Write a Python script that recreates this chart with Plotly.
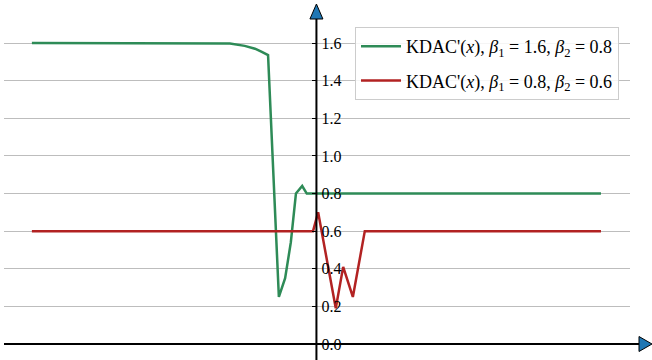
import plotly.graph_objects as go

# ---- data ----
green_x = [-5.0, -3.0, -2.0, -1.52, -1.26, -1.08, -0.96, -0.85, -0.66, -0.55, -0.45, -0.36, -0.25, -0.17, 1.0, 3.0, 5.0]
green_y = [1.60, 1.60, 1.60, 1.597, 1.585, 1.57, 1.553, 1.536, 0.25, 0.35, 0.54, 0.80, 0.84, 0.80, 0.80, 0.80, 0.80]

red_x = [-5.0, -3.0, -1.0, -0.06, 0.03, 0.34, 0.47, 0.64, 0.85, 2.0, 4.0, 5.0]
red_y = [0.60, 0.60, 0.60, 0.60, 0.70, 0.19, 0.41, 0.25, 0.60, 0.60, 0.60, 0.60]

green_name = "KDAC'(<i>x</i>), <i>β</i><sub>1</sub> = 1.6, <i>β</i><sub>2</sub> = 0.8"
red_name = "KDAC'(<i>x</i>), <i>β</i><sub>1</sub> = 0.8, <i>β</i><sub>2</sub> = 0.6"

y_ticks = [0.0, 0.2, 0.4, 0.6, 0.8, 1.0, 1.2, 1.4, 1.6]

# ---- layout geometry ----
W, H = 652, 360
ML, MR, MT, MB = 4, 22, 20, 0
XR = [-5.49, 5.51]
YR = [-0.085, 1.7225]
FONT = "Liberation Serif, Times New Roman, serif"

pw = W - ML - MR
ph = H - MT - MB


def px_x(px):
    return (px - ML) / pw


def px_y(py):
    return (H - MB - py) / ph


def dx(x):
    return (x - XR[0]) / (XR[1] - XR[0])


def dy(y):
    return (y - YR[0]) / (YR[1] - YR[0])


fig = go.Figure()
fig.add_trace(go.Scatter(x=green_x, y=green_y, mode="lines", name=green_name,
                         line=dict(color="#2e8b57", width=2.5), legendgroup="g"))
fig.add_trace(go.Scatter(x=red_x, y=red_y, mode="lines", name=red_name,
                         line=dict(color="#b22222", width=2.5), legendgroup="r"))

x0p = dx(0)
y0p = dy(0)

shapes = [
    # x axis line
    dict(type="line", xref="paper", yref="paper", x0=0, x1=px_x(640), y0=y0p, y1=y0p,
         line=dict(color="black", width=2), layer="above"),
    # y axis line
    dict(type="line", xref="paper", yref="paper", x0=x0p, x1=x0p, y0=0, y1=px_y(19),
         line=dict(color="black", width=2), layer="above"),
]

# arrow heads
yax_px = ML + x0p * pw
xax_py = H - MB - y0p * ph
up = "M {} {} L {} {} L {} {} Z".format(
    px_x(yax_px - 6.5), px_y(19), px_x(yax_px + 6.5), px_y(19), px_x(yax_px), px_y(4))
right = "M {} {} L {} {} L {} {} Z".format(
    px_x(639), px_y(xax_py - 7.5), px_x(639), px_y(xax_py + 7.5), px_x(652), px_y(xax_py))
for p in (up, right):
    shapes.append(dict(type="path", xref="paper", yref="paper", path=p,
                       fillcolor="#1f77b4", line=dict(color="black", width=1), layer="above"))

fig.update_layout(
    width=W, height=H,
    margin=dict(l=ML, r=MR, t=MT, b=MB),
    paper_bgcolor="white", plot_bgcolor="white",
    font=dict(family=FONT, size=16, color="black"),
    showlegend=True,
    legend=dict(x=px_x(355), y=px_y(27), xanchor="left", yanchor="top",
                bgcolor="rgba(255,255,255,0.85)", bordercolor="#cccccc", borderwidth=1,
                font=dict(family=FONT, size=18), tracegroupgap=8, itemwidth=40,
                traceorder="grouped"),
    xaxis=dict(range=XR, showgrid=False, zeroline=False, showline=False,
               showticklabels=False, ticks=""),
    yaxis=dict(range=YR, anchor="free", position=x0p, side="right",
               tickvals=y_ticks, ticktext=["{:.1f}".format(v) for v in y_ticks],
               ticks="inside", ticklen=4, tickwidth=1, tickcolor="black",
               ticklabelstandoff=4,
               showgrid=True, gridcolor="#bdbdbd", gridwidth=1,
               zeroline=False, showline=False,
               tickfont=dict(family=FONT, size=16, color="black")),
    shapes=shapes,
)

fig.write_html("out.html")
